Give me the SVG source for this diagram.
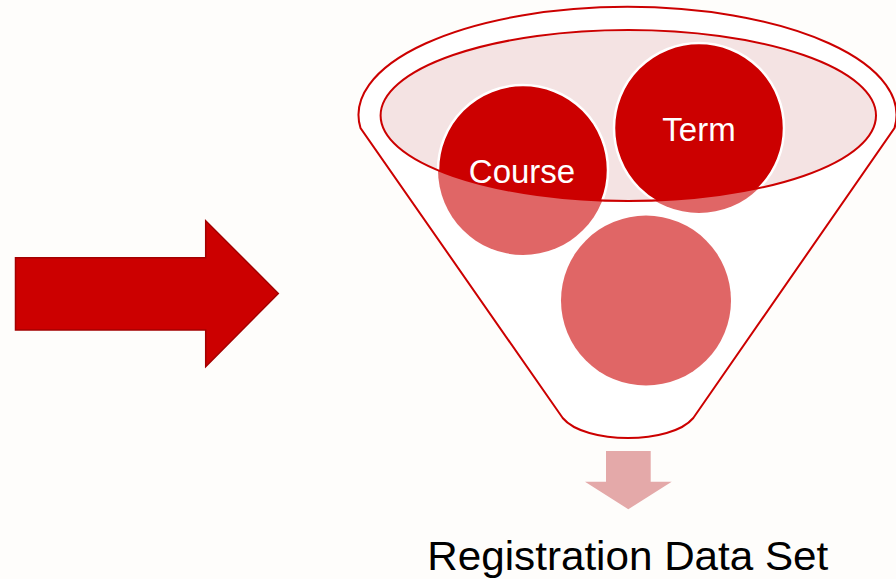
<svg xmlns="http://www.w3.org/2000/svg" width="896" height="579" viewBox="0 0 896 579">
  <style>
    .lbl { font-family: "Liberation Sans", Arial, sans-serif; fill: #ffffff; font-size: 33px; text-anchor: middle; }
    .cap { font-family: "Liberation Sans", Arial, sans-serif; fill: #000000; font-size: 40px; text-anchor: middle; }
    .light { fill: #e06666; }
    .dark { fill: #cc0000; stroke: #ffffff; stroke-width: 2.5; }
  </style>
  <defs>
    <clipPath id="inner">
      <ellipse cx="628.3" cy="115.5" rx="247.7" ry="85.5"/>
    </clipPath>
  </defs>
  <rect x="0" y="0" width="896" height="579" fill="#fefdfb"/>

  <g id="input-arrow">
    <polygon points="15.5,257.7 205.7,257.7 205.7,220.7 278.3,293.5 205.7,366.7 205.7,330 15.5,330" fill="#cc0000" stroke="#a30000" stroke-width="1.5"/>
  </g>

  <g id="funnel">
    <path d="M 360.5 128 A 269 108 0 1 1 894.5 128 L 693.3 418 C 671 444.7 585 444.7 562.7 418 Z" fill="#ffffff" stroke="#cc0000" stroke-width="2"/>
    <ellipse cx="628.3" cy="115.5" rx="247.7" ry="85.5" fill="#f4e3e3"/>
  </g>

  <g id="course">
    <circle class="light" cx="523" cy="170" r="85"/>
    <circle class="dark" cx="523" cy="170" r="85" clip-path="url(#inner)"/>
  </g>
  <g id="term">
    <circle class="light" cx="699" cy="128" r="85"/>
    <circle class="dark" cx="699" cy="128" r="85" clip-path="url(#inner)"/>
  </g>
  <g id="blank">
    <circle class="light" cx="646" cy="300.5" r="85"/>
  </g>

  <g id="funnel-rim">
    <ellipse cx="628.3" cy="115.5" rx="247.7" ry="85.5" fill="none" stroke="#cc0000" stroke-width="2"/>
  </g>

  <text class="lbl" x="522" y="182.7">Course</text>
  <text class="lbl" x="699" y="141">Term</text>

  <g id="output-arrow">
    <polygon points="606,451 650.7,451 650.7,481.7 671.7,481.7 628.3,509.3 585,481.7 606,481.7" fill="#e4a9a9"/>
  </g>

  <g id="result">
    <text class="cap" x="627.8" y="570" textLength="401" lengthAdjust="spacingAndGlyphs">Registration Data Set</text>
  </g>
</svg>
